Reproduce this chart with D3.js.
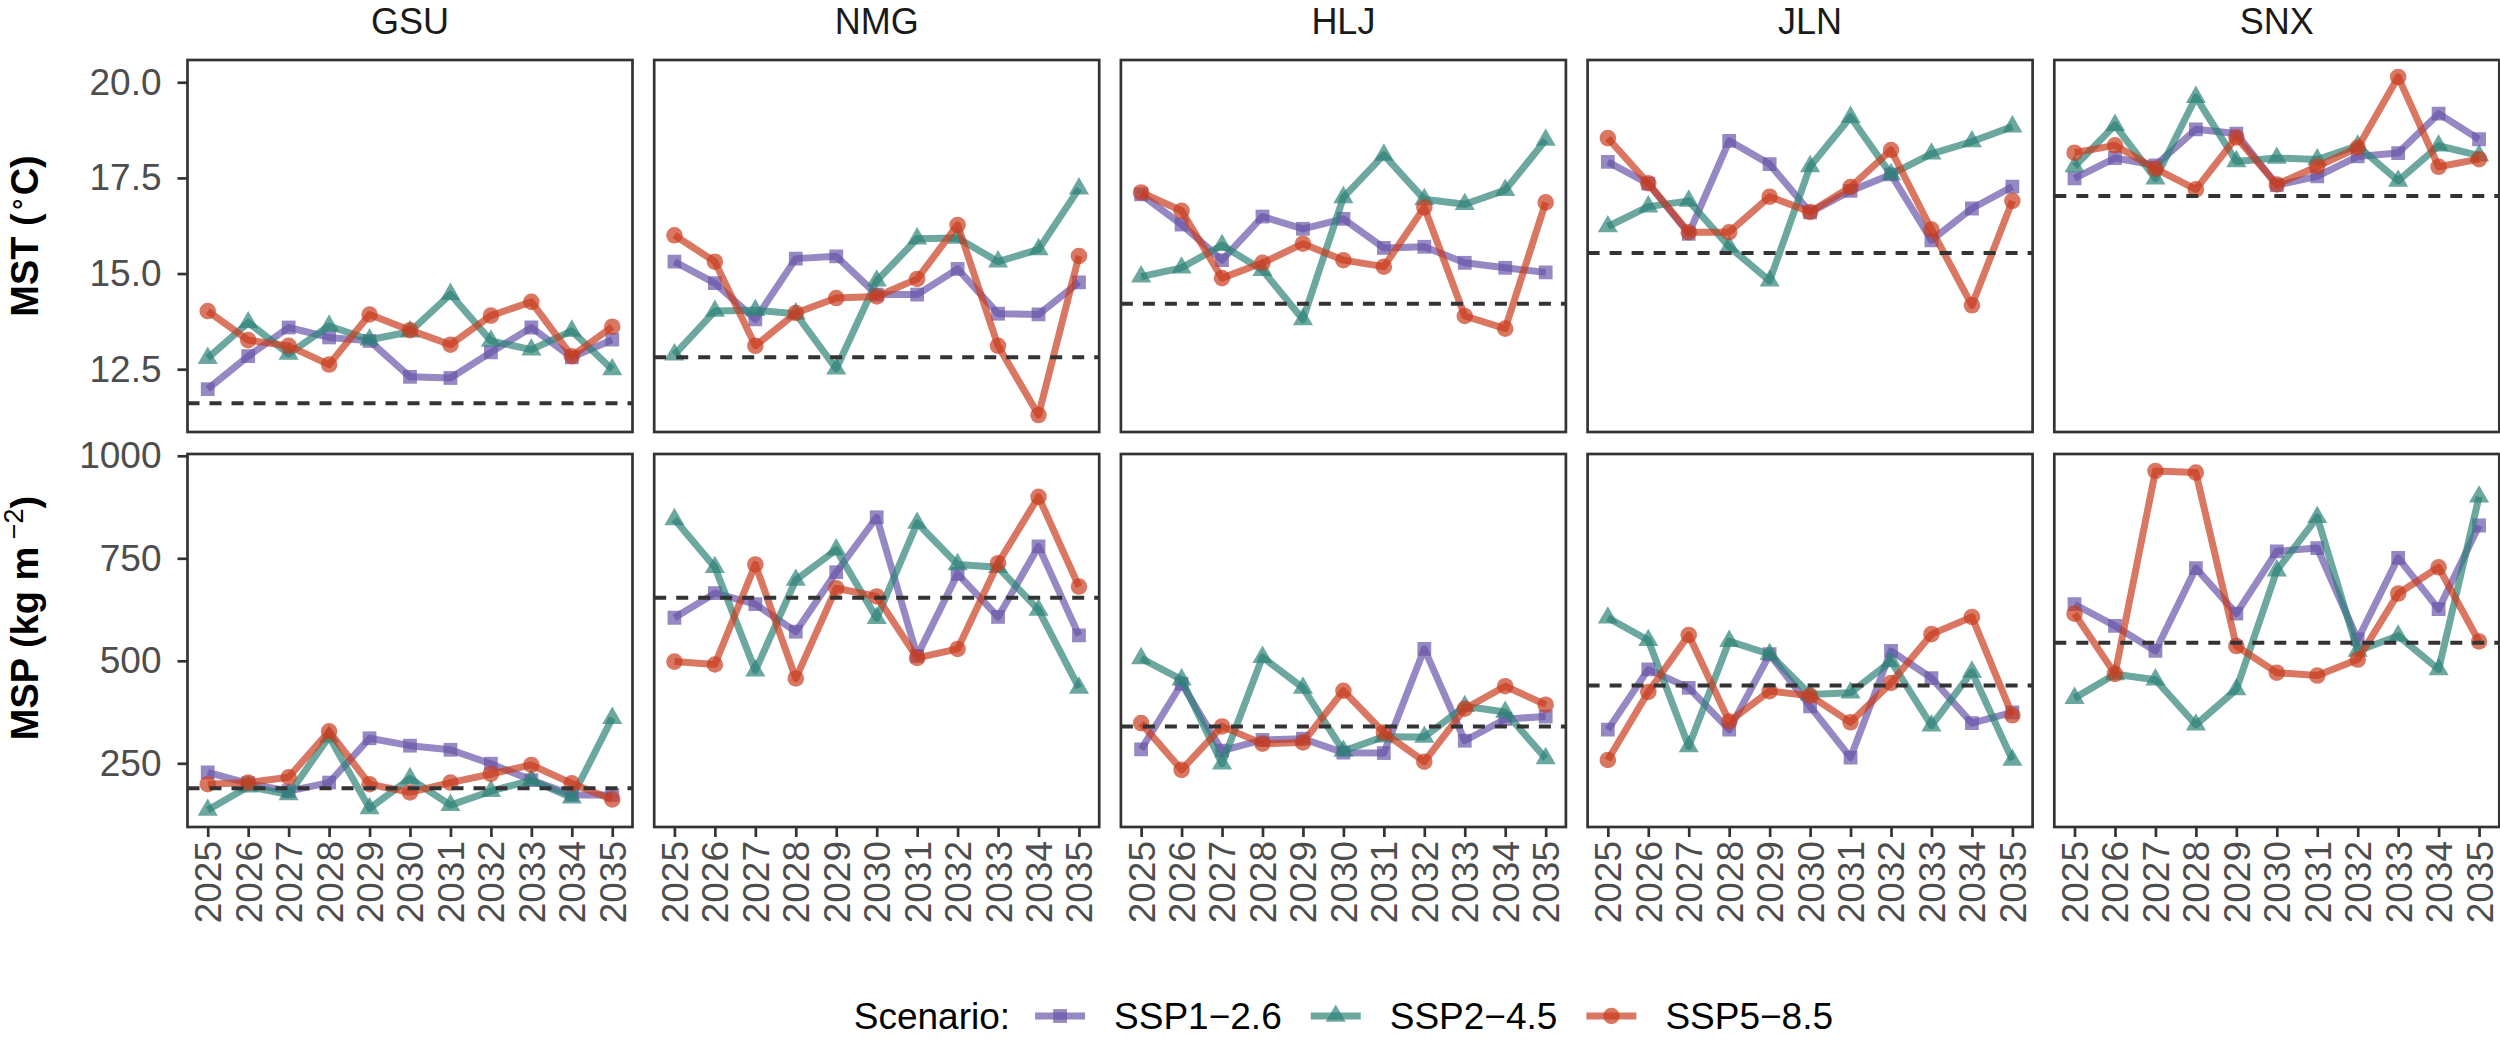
<!DOCTYPE html>
<html>
<head>
<meta charset="utf-8">
<script src="https://cdn.jsdelivr.net/npm/d3@7"></script>
<style>
  body { margin: 0; background: #fff; }
  text { font-family: "Liberation Sans", Arial, sans-serif; }
</style>
</head>
<body>
<div id="chart"></div>
<script>
// categories
const years = [2025, 2026, 2027, 2028, 2029, 2030, 2031, 2032, 2033, 2034, 2035];
const regions = ["GSU", "NMG", "HLJ", "JLN", "SNX"];
const scenarios = ["SSP1−2.6", "SSP2−4.5", "SSP5−8.5"];

// mean surface temperature, one row per region (GSU, NMG, HLJ, JLN, SNX)
const mstSSP126 = [
  [11.98, 12.84, 13.59, 13.33, 13.24, 12.30, 12.27, 12.94, 13.59, 12.81, 13.27],
  [15.31, 14.75, 13.80, 15.39, 15.45, 14.45, 14.45, 15.12, 13.95, 13.93, 14.77],
  [17.07, 16.28, 15.35, 16.49, 16.17, 16.43, 15.67, 15.70, 15.28, 15.15, 15.03],
  [17.92, 17.35, 16.04, 18.47, 17.86, 16.60, 17.16, 17.59, 15.87, 16.70, 17.27],
  [17.49, 18.02, 17.83, 18.77, 18.66, 17.31, 17.54, 18.06, 18.15, 19.18, 18.51]
];
const mstSSP245 = [
  [12.79, 13.72, 12.90, 13.63, 13.27, 13.48, 14.46, 13.24, 13.01, 13.50, 12.49],
  [12.88, 14.02, 14.04, 13.95, 12.51, 14.81, 15.91, 15.93, 15.31, 15.63, 17.22],
  [14.92, 15.15, 15.74, 15.09, 13.80, 16.99, 18.10, 16.94, 16.81, 17.18, 18.49],
  [16.23, 16.75, 16.90, 15.70, 14.81, 17.80, 19.09, 17.59, 18.13, 18.45, 18.84],
  [17.80, 18.88, 17.48, 19.61, 17.93, 18.02, 17.98, 18.34, 17.42, 18.34, 18.08]
];
const mstSSP585 = [
  [14.02, 13.26, 13.11, 12.62, 13.93, 13.52, 13.14, 13.90, 14.26, 12.84, 13.61],
  [16.00, 15.31, 13.11, 13.97, 14.36, 14.40, 14.86, 16.27, 13.11, 11.30, 15.46],
  [17.12, 16.64, 14.88, 15.28, 15.78, 15.35, 15.18, 16.73, 13.89, 13.56, 16.86],
  [18.54, 17.36, 16.08, 16.08, 17.01, 16.61, 17.26, 18.23, 16.15, 14.17, 16.90],
  [18.16, 18.35, 17.74, 17.20, 18.56, 17.33, 17.80, 18.29, 20.14, 17.79, 17.99]
];
const mstBaseline = [11.61, 12.81, 14.21, 15.54, 17.03];

// mean seasonal precipitation
const mspSSP126 = [
  [228, 201, 182, 203, 311, 293, 283, 249, 209, 173, 173],
  [605, 665, 638, 571, 716, 850, 512, 712, 607, 779, 562],
  [284, 444, 281, 307, 310, 276, 275, 529, 305, 358, 364],
  [332, 479, 434, 332, 516, 389, 264, 524, 458, 348, 374],
  [638, 585, 524, 726, 615, 767, 775, 552, 751, 626, 830]
];
const mspSSP245 = [
  [136, 193, 174, 315, 140, 213, 148, 182, 209, 166, 360],
  [845, 728, 476, 697, 771, 604, 836, 735, 728, 624, 434],
  [506, 454, 249, 509, 434, 280, 315, 314, 389, 375, 262],
  [605, 550, 291, 548, 516, 418, 422, 499, 342, 473, 258],
  [409, 467, 454, 344, 430, 720, 850, 524, 561, 479, 900]
];
const mspSSP585 = [
  [199, 203, 216, 328, 199, 179, 203, 224, 246, 201, 162],
  [498, 491, 735, 457, 677, 657, 507, 529, 738, 900, 681],
  [348, 234, 340, 298, 301, 427, 325, 254, 383, 438, 393],
  [258, 424, 563, 352, 426, 415, 350, 446, 565, 607, 367],
  [615, 468, 963, 959, 536, 471, 464, 503, 664, 728, 547]
];
const mspBaseline = [189, 654, 340, 440, 544];

const mstTicks = [12.5, 15.0, 17.5, 20.0];
const mspTicks = [250, 500, 750, 1000];

// styling
const colors = ["#6a56a8", "#2e8178", "#c93d1f"];
const shapes = [d3.symbolSquare, d3.symbolTriangle, d3.symbolCircle];
const shapeSize = [190, 175, 215];
const lineW = 7;
const fontSize = 37;

const width = 2500, height = 1040;
const panelLeft = 187.5, panelStep = 466.7, panelW = 445;

const svg = d3.select("#chart")
  .append("svg")
  .attr("width", width)
  .attr("height", height);

const rows = [
  { top: 60, bottom: 432, series: [mstSSP126, mstSSP245, mstSSP585], base: mstBaseline,
    ticks: mstTicks, fmt: d3.format(".1f"), titleY: 236 },
  { top: 454, bottom: 827, series: [mspSSP126, mspSSP245, mspSSP585], base: mspBaseline,
    ticks: mspTicks, fmt: d3.format("d"), titleY: 618 }
];

const defs = svg.append("defs");

rows.forEach((row, r) => {
  // shared y scale per row with ggplot-style 5% expansion
  const all = row.series.flat(2).concat(row.base);
  const [lo, hi] = d3.extent(all);
  const pad = (hi - lo) * 0.05;
  const yScale = d3.scaleLinear()
    .domain([lo - pad, hi + pad])
    .range([row.bottom, row.top]);

  regions.forEach((reg, i) => {
    const x0 = panelLeft + i * panelStep;
    const xScale = d3.scaleLinear()
      .domain([2025 - 0.5, 2035 + 0.5])
      .range([x0, x0 + panelW]);

    const clipId = `clip-${r}-${i}`;
    defs.append("clipPath").attr("id", clipId)
      .append("rect")
      .attr("x", x0).attr("y", row.top)
      .attr("width", panelW).attr("height", row.bottom - row.top);

    const g = svg.append("g").attr("clip-path", `url(#${clipId})`);

    row.series.forEach((s, k) => {
      const vals = s[i];
      const line = d3.line()
        .x((d, j) => xScale(years[j]))
        .y(d => yScale(d));
      g.append("path")
        .datum(vals)
        .attr("d", line)
        .attr("fill", "none")
        .attr("stroke", colors[k])
        .attr("stroke-width", lineW)
        .attr("stroke-opacity", 0.7)
        .attr("stroke-linejoin", "round");
      g.selectAll(null)
        .data(vals)
        .join("path")
        .attr("transform", (d, j) => `translate(${xScale(years[j])},${yScale(d)})`)
        .attr("d", d3.symbol().type(shapes[k]).size(shapeSize[k]))
        .attr("fill", colors[k])
        .attr("fill-opacity", 0.7);
    });

    // reference (historical) level
    g.append("line")
      .attr("x1", x0).attr("x2", x0 + panelW)
      .attr("y1", yScale(row.base[i])).attr("y2", yScale(row.base[i]))
      .attr("stroke", "#333")
      .attr("stroke-width", 4)
      .attr("stroke-dasharray", "12 10");

    svg.append("rect")
      .attr("x", x0).attr("y", row.top)
      .attr("width", panelW).attr("height", row.bottom - row.top)
      .attr("fill", "none")
      .attr("stroke", "#333")
      .attr("stroke-width", 2.7);

    // strip labels on top row
    if (r === 0) {
      svg.append("text")
        .attr("x", x0 + panelW / 2).attr("y", 34)
        .attr("text-anchor", "middle")
        .attr("font-size", 36)
        .attr("fill", "#1a1a1a")
        .text(reg);
    }

    // x axis on bottom row
    if (r === 1) {
      const xAxis = d3.axisBottom(xScale)
        .tickValues(years)
        .tickSize(10)
        .tickFormat(d3.format("d"));
      const ax = svg.append("g")
        .attr("transform", `translate(0,${row.bottom})`)
        .call(xAxis);
      ax.select(".domain").remove();
      ax.selectAll(".tick line").attr("stroke", "#333").attr("stroke-width", 2.7);
      ax.selectAll(".tick text")
        .attr("font-size", fontSize)
        .attr("font-family", null)
        .attr("fill", "#4d4d4d")
        .attr("text-anchor", "end")
        .attr("transform", "rotate(-90)")
        .attr("x", -14)
        .attr("y", 0)
        .attr("dy", "0.35em");
    }

    // y axis on first column
    if (i === 0) {
      const yAxis = d3.axisLeft(yScale)
        .tickValues(row.ticks)
        .tickSize(10)
        .tickFormat(row.fmt);
      const ay = svg.append("g")
        .attr("transform", `translate(${x0},0)`)
        .call(yAxis);
      ay.select(".domain").remove();
      ay.selectAll(".tick line").attr("stroke", "#333").attr("stroke-width", 2.7);
      ay.selectAll(".tick text")
        .attr("font-size", fontSize)
        .attr("font-family", null)
        .attr("fill", "#4d4d4d")
        .attr("x", -26);
    }
  });
});

// y axis titles
const t1 = svg.append("text")
  .attr("transform", `translate(38,${rows[0].titleY}) rotate(-90)`)
  .attr("text-anchor", "middle")
  .attr("font-size", 38)
  .attr("font-weight", "bold")
  .attr("fill", "#000");
t1.append("tspan").text("MST (");
t1.append("tspan").attr("font-weight", "normal").attr("font-size", 28).attr("dy", -13).text("∘");
t1.append("tspan").attr("dy", 13).text("C)");

const t2 = svg.append("text")
  .attr("transform", `translate(38,${rows[1].titleY}) rotate(-90)`)
  .attr("text-anchor", "middle")
  .attr("font-size", 38)
  .attr("font-weight", "bold")
  .attr("fill", "#000");
t2.append("tspan").text("MSP (kg m");
t2.append("tspan").attr("font-weight", "normal").attr("font-size", 27).attr("dy", -15).text(" −2");
t2.append("tspan").attr("dy", 15).text(")");

// legend
const legend = svg.append("g");
const legY = 1029;
let cx = 0;
const title = legend.append("text")
  .attr("x", cx).attr("y", legY)
  .attr("font-size", fontSize)
  .attr("fill", "#000")
  .text("Scenario:");
cx += title.node().getComputedTextLength() + 25;
scenarios.forEach((s, k) => {
  const midY = legY - 13;
  legend.append("line")
    .attr("x1", cx).attr("x2", cx + 50)
    .attr("y1", midY).attr("y2", midY)
    .attr("stroke", colors[k])
    .attr("stroke-width", lineW)
    .attr("stroke-opacity", 0.7);
  legend.append("path")
    .attr("transform", `translate(${cx + 25},${midY})`)
    .attr("d", d3.symbol().type(shapes[k]).size(shapeSize[k]))
    .attr("fill", colors[k])
    .attr("fill-opacity", 0.7);
  cx += 50 + 29;
  const lab = legend.append("text")
    .attr("x", cx).attr("y", legY)
    .attr("font-size", fontSize)
    .attr("fill", "#000")
    .text(s);
  cx += lab.node().getComputedTextLength() + 29;
});
cx -= 29;
const areaMid = (panelLeft + panelLeft + 4 * panelStep + panelW) / 2;
legend.attr("transform", `translate(${areaMid - cx / 2},0)`);
</script>
</body>
</html>
